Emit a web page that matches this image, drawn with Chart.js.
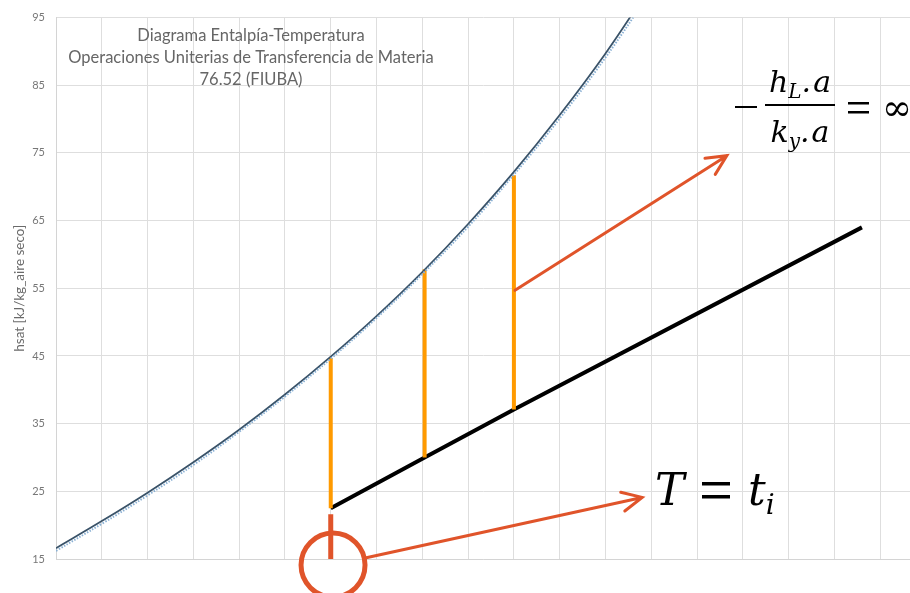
<!DOCTYPE html>
<html>
<head>
<meta charset="utf-8">
<script src="https://cdn.jsdelivr.net/npm/chart.js@4.4.0/dist/chart.umd.min.js"></script>
<style>
  html, body { margin: 0; padding: 0; background: #fff; overflow: hidden; }
  #wrap { width: 910px; height: 593px; }
</style>
</head>
<body>
<div id="wrap"><canvas id="chart"></canvas></div>
<script>
// saturation enthalpy, T in °C, h in kJ/kg aire seco
const temps = [4, 6, 8, 10, 12, 14, 16, 18, 20, 22, 24, 26, 28, 30];
const hsat = [16.6, 20.6, 24.8, 29.3, 34.1, 39.3, 44.9, 50.9, 57.4, 64.5, 72.2, 80.6, 89.7, 99.8];
const hsatTrend = [16.2, 20.2, 24.4, 28.9, 33.8, 39.0, 44.6, 50.6, 57.1, 64.1, 71.8, 80.1, 89.1, 99.0];

// operating line
const opTemps = [16, 20.1, 24, 39.2];
const opH = [22.5, 30.0, 37.1, 64.0];

// tie lines (vertical, slope = infinity)
const tieTemps = [16, 20.1, 24];
const tieBottom = [22.5, 30.0, 37.1];
const tieTop = [44.7, 57.8, 71.7];

// red marker at T = ti
const markTemps = [16, 16];
const markH = [21.6, 15];
const circleCenter = [16.1, 14.1];

// arrows [T, h]
const arrowFrom = [[17.5, 15.15], [24.05, 54.7]];
const arrowTo = [[29.6, 24.1], [33.3, 74.6]];

const titleLines = ['Diagrama Entalpía-Temperatura', 'Operaciones Uniterias de Transferencia de Materia', '76.52 (FIUBA)'];

const RED = '#e0542a';
const ORANGE = '#ff9a00';

const pts = (xs, ys) => xs.map((v, i) => ({x: v, y: ys[i]}));

const datasets = [
  {data: pts(temps, hsatTrend), borderColor: '#8bb1d4', borderWidth: 2, borderDash: [1.5, 1.5], tension: 0.4},
  {data: pts(temps, hsat), borderColor: '#3a5369', borderWidth: 1.8, tension: 0.4},
];
tieTemps.forEach((t, i) => {
  datasets.push({data: [{x: t, y: tieBottom[i]}, {x: t, y: tieTop[i]}], borderColor: ORANGE, borderWidth: 4});
});
datasets.push({data: pts(opTemps, opH), borderColor: '#000', borderWidth: 4});
datasets.push({data: pts(markTemps, markH), borderColor: RED, borderWidth: 5});
datasets.push({data: [{x: circleCenter[0], y: circleCenter[1]}], showLine: false, pointRadius: 32,
  pointBorderWidth: 5, pointBorderColor: RED, pointBackgroundColor: 'rgba(0,0,0,0)', clip: false});

function drawRuns(ctx, runs, x, y) {
  runs.forEach(r => {
    ctx.font = r.font;
    ctx.fillText(r.text, x, y + (r.dy || 0));
    x += ctx.measureText(r.text).width + (r.gap || 0);
  });
}
function runsWidth(ctx, runs) {
  let w = 0;
  runs.forEach(r => { ctx.font = r.font; w += ctx.measureText(r.text).width + (r.gap || 0); });
  return w;
}

const overlay = {
  id: 'overlay',
  afterDatasetsDraw(chart) {
    const {ctx} = chart;
    const sx = chart.scales.x, sy = chart.scales.y;
    ctx.save();

    // arrows
    ctx.strokeStyle = RED;
    ctx.lineWidth = 3;
    ctx.lineCap = 'round';
    arrowFrom.forEach((p, i) => {
      const x0 = sx.getPixelForValue(p[0]), y0 = sy.getPixelForValue(p[1]);
      const x1 = sx.getPixelForValue(arrowTo[i][0]), y1 = sy.getPixelForValue(arrowTo[i][1]);
      const a = Math.atan2(y0 - y1, x0 - x1);
      ctx.beginPath();
      ctx.moveTo(x0, y0);
      ctx.lineTo(x1, y1);
      ctx.moveTo(x1 + 22 * Math.cos(a + 0.45), y1 + 22 * Math.sin(a + 0.45));
      ctx.lineTo(x1, y1);
      ctx.lineTo(x1 + 22 * Math.cos(a - 0.45), y1 + 22 * Math.sin(a - 0.45));
      ctx.stroke();
    });

    // title
    ctx.fillStyle = '#666';
    ctx.font = '16.5px Lato';
    ctx.textAlign = 'center';
    ctx.textBaseline = 'alphabetic';
    titleLines.forEach((t, i) => ctx.fillText(t, 251, 41 + i * 22));

    // equation: -(hL.a)/(ky.a) = inf
    ctx.textAlign = 'left';
    ctx.fillStyle = '#000';
    const big = 'italic 30px "DejaVu Serif"', sub = 'italic 20px "DejaVu Serif"';
    const num = [{text: 'h', font: big}, {text: 'L', font: sub, dy: 6}, {text: '.', font: big, gap: 2}, {text: 'a', font: big}];
    const den = [{text: 'k', font: big}, {text: 'y', font: sub, dy: 6}, {text: '.', font: big, gap: 2}, {text: 'a', font: big}];
    const cx = 800;
    drawRuns(ctx, num, cx - runsWidth(ctx, num) / 2, 92);
    drawRuns(ctx, den, cx - runsWidth(ctx, den) / 2, 142);
    ctx.fillRect(765, 104, 70, 2);
    ctx.fillRect(735, 106, 22, 2);
    ctx.fillRect(848, 102, 21, 2.5);
    ctx.fillRect(848, 111, 21, 2.5);
    ctx.font = '36px "DejaVu Serif"';
    ctx.fillText('∞', 882, 120);

    // T = ti
    const tBig = 'italic 44px "DejaVu Serif"', tSub = 'italic 28px "DejaVu Serif"';
    drawRuns(ctx, [{text: 'T', font: tBig}], 655, 505);
    ctx.fillRect(702, 482, 28, 3.5);
    ctx.fillRect(702, 495, 28, 3.5);
    drawRuns(ctx, [{text: 't', font: tBig}, {text: 'i', font: tSub, dy: 9}], 748, 505);

    ctx.restore();
  }
};

new Chart(document.getElementById('chart'), {
  type: 'scatter',
  data: {datasets: datasets},
  options: {
    responsive: true,
    maintainAspectRatio: false,
    animation: false,
    layout: {autoPadding: false, padding: {top: 13, right: 0, left: 0, bottom: 0}},
    elements: {
      point: {radius: 0, hoverRadius: 0},
      line: {fill: false}
    },
    datasets: {scatter: {showLine: true}},
    plugins: {legend: {display: false}, tooltip: {enabled: false}, title: {display: false}},
    scales: {
      x: {
        type: 'linear',
        min: 4,
        max: 41.3,
        ticks: {stepSize: 2, display: false, includeBounds: false},
        grid: {color: '#dedede', drawTicks: false},
        border: {color: '#d4d4d4'},
        afterFit(scale) { scale.height = 34; }
      },
      y: {
        type: 'linear',
        min: 15,
        max: 95,
        ticks: {stepSize: 10, color: '#777', font: {family: 'Lato', size: 11}, padding: 11},
        grid: {color: '#dedede', drawTicks: false},
        border: {color: '#d4d4d4'},
        title: {display: true, text: 'hsat [kJ/kg_aire seco]', color: '#6a6a6a', font: {family: 'Lato', size: 13.5}, padding: {top: 12, bottom: 0}},
        afterFit(scale) { scale.width = 56; }
      }
    }
  },
  plugins: [overlay]
});
</script>
</body>
</html>
